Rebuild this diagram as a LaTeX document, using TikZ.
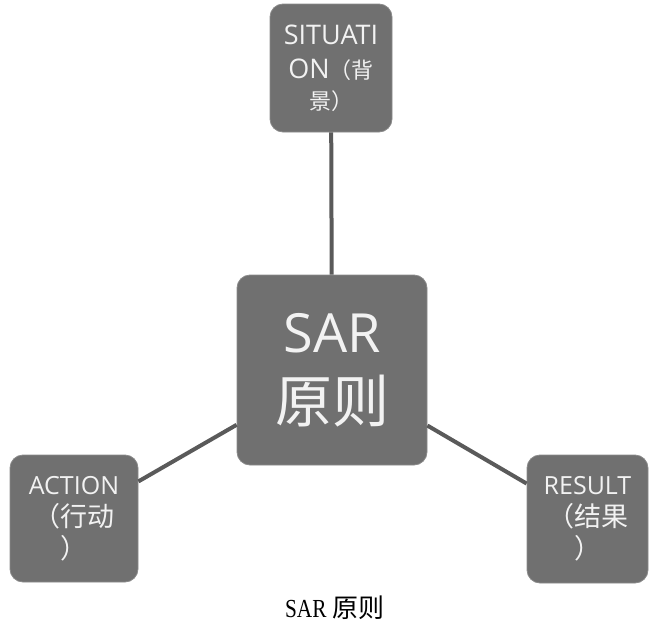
\documentclass[tikz,border=0pt]{standalone}
\usepackage{fontspec}
\setmainfont{Open Sans}
\newfontfamily\cjk{Noto Sans CJK SC}
\newfontfamily\capserif{Liberation Serif}
\definecolor{boxgray}{HTML}{707070}
\definecolor{boxedge}{HTML}{8A8A8A}
\definecolor{linkgray}{HTML}{5A5A5A}
\definecolor{boxtext}{HTML}{F2F2F2}
\newcommand{\cjkbig}[1]{{\fontsize{57}{70}\cjk #1}}
\newcommand{\cjktop}[1]{{\fontsize{22}{33}\cjk #1}}
\newcommand{\cjkside}[1]{{\fontsize{27}{32}\cjk #1}}
\tikzset{
  sarbox/.style={draw=boxedge, line width=0.8pt, fill=boxgray, rounded corners=13pt,
    text=boxtext, align=center, inner sep=0pt},
  topbox/.style={sarbox, font=\fontsize{27}{34}\selectfont},
  sidebox/.style={sarbox, font=\fontsize{25}{32}\selectfont},
  bigbox/.style={sarbox, font=\fontsize{54}{70}\selectfont, minimum width=190pt, minimum height=190pt},
  link/.style={draw=linkgray, line width=4pt}
}
\begin{document}
\begin{tikzpicture}[x=1pt,y=-1pt]
\useasboundingbox (0,0) rectangle (649,624);
\node[bigbox] (sar) at (332,370) {SAR\\\cjkbig{原则}};
\node[topbox, minimum width=122pt, minimum height=128pt] (sit) at (331,68) {SITUATI\\ON\cjktop{（背}\\[-3pt]\cjktop{景）}};
\node[sidebox, minimum width=128pt, minimum height=127pt] (act) at (74,518.5) {ACTION\\\cjkside{（行动}\\\cjkside{）}};
\node[sidebox, minimum width=121pt, minimum height=128pt] (res) at (587.5,519) {RESULT\\\cjkside{（结果}\\\cjkside{）}};
\draw[link] (sar) -- (sit);
\draw[link] (sar) -- (act);
\draw[link] (sar) -- (res);
\node[anchor=base, inner sep=0pt] (cap) at (335,617) {\fontsize{26}{30}\selectfont\capserif\scalebox{0.82}[1]{SAR}\ {\cjk 原则}};
\end{tikzpicture}
\end{document}
